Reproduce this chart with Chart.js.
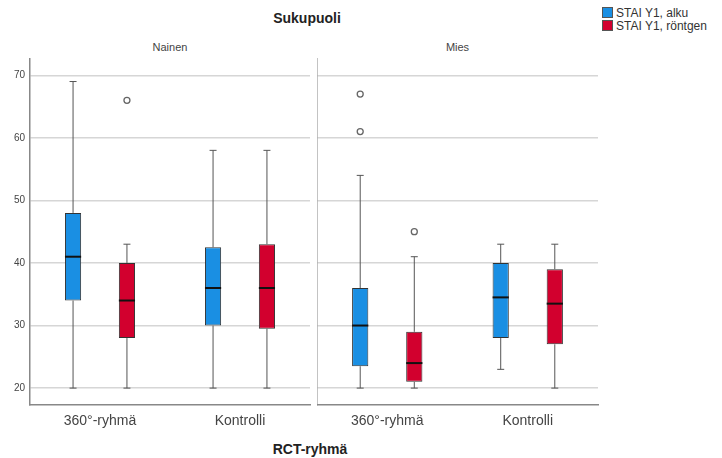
<!DOCTYPE html>
<html>
<head>
<meta charset="utf-8">
<script src="https://cdn.jsdelivr.net/npm/chart.js@4/dist/chart.umd.min.js"></script>
<style>
  body { margin: 0; width: 722px; height: 458px; background: #fff; position: relative; overflow: hidden;
    font-family: Arial, "Liberation Sans", sans-serif; }
  .txt { position: absolute; color: #222; white-space: nowrap; }
  .title { left: 0; width: 614px; top: 10px; text-align: center; font-weight: bold; font-size: 14px; }
  .xtitle { left: 0; width: 620px; top: 441px; text-align: center; font-weight: bold; font-size: 14px; }
  .sub { top: 41px; font-size: 11px; color: #444; text-align: center; }
  .legend { left: 602px; font-size: 12px; color: #333; }
  .legend span { display: inline-block; width: 9px; height: 9px; border: 1px solid #555; vertical-align: -1px; margin-right: 3px; }
  .panel { position: absolute; top: 36px; height: 404px; }
</style>
</head>
<body>
<div class="txt title">Sukupuoli</div>
<div class="txt legend" style="top:6px"><span style="background:#1a8fe3"></span>STAI Y1, alku</div>
<div class="txt legend" style="top:19px"><span style="background:#d2002e"></span>STAI Y1, röntgen</div>
<div class="txt sub" style="left:30px;width:280px">Nainen</div>
<div class="txt sub" style="left:317px;width:281px">Mies</div>
<div class="txt xtitle">RCT-ryhmä</div>
<div class="panel" style="left:0;width:312px"><canvas id="nainen"></canvas></div>
<div class="panel" style="left:317px;width:283px"><canvas id="mies"></canvas></div>

<script>
// categories
const groups = ['360°-ryhmä', 'Kontrolli']
const series = ['STAI Y1, alku', 'STAI Y1, röntgen']
const yTicks = [20, 30, 40, 50, 60, 70]

// five-number summaries per group: [min, Q1, median, Q3, max]
const nainenAlku = [[20, 34, 41, 48, 69], [20, 30, 36, 42.5, 58]]
const nainenRontgen = [[20, 28, 34, 40, 43], [20, 29.5, 36, 43, 58]]
const miesAlku = [[20, 23.5, 30, 36, 54], [23, 28, 34.5, 40, 43]]
const miesRontgen = [[20, 21, 24, 29, 41], [20, 27, 33.5, 39, 43]]

// outliers per group
const nainenAlkuOut = [[], []]
const nainenRontgenOut = [[66], []]
const miesAlkuOut = [[67, 61], []]
const miesRontgenOut = [[45], []]

const colors = ['#1a8fe3', '#d2002e']

/**
 * Draws whiskers, medians and outliers on top of the floating bars.
 */
const boxPlugin = {
  id: 'boxExtras',
  afterDatasetsDraw (chart) {
    const ctx = chart.ctx
    const y = chart.scales.y
    chart.data.datasets.forEach((ds, i) => {
      const meta = chart.getDatasetMeta(i)
      meta.data.forEach((bar, j) => {
        const [min, q1, med, q3, max] = ds.stats[j]
        const x = bar.x
        const half = bar.width / 2
        ctx.save()
        ctx.strokeStyle = '#555'
        ctx.lineWidth = 1
        ctx.beginPath()
        ctx.moveTo(x, y.getPixelForValue(q3))
        ctx.lineTo(x, y.getPixelForValue(max))
        ctx.moveTo(x, y.getPixelForValue(q1))
        ctx.lineTo(x, y.getPixelForValue(min))
        ctx.moveTo(x - 3.5, y.getPixelForValue(max))
        ctx.lineTo(x + 3.5, y.getPixelForValue(max))
        ctx.moveTo(x - 3.5, y.getPixelForValue(min))
        ctx.lineTo(x + 3.5, y.getPixelForValue(min))
        ctx.stroke()
        ctx.strokeStyle = '#111'
        ctx.lineWidth = 2
        ctx.beginPath()
        ctx.moveTo(x - half, y.getPixelForValue(med))
        ctx.lineTo(x + half, y.getPixelForValue(med))
        ctx.stroke()
        ctx.strokeStyle = '#666'
        ctx.lineWidth = 1.3
        ds.outliers[j].forEach(v => {
          ctx.beginPath()
          ctx.arc(x, y.getPixelForValue(v), 3, 0, Math.PI * 2)
          ctx.stroke()
        })
        ctx.restore()
      })
    })
  }
}

function makePanel (id, alku, rontgen, alkuOut, rontgenOut, showTicks) {
  const stats = [alku, rontgen]
  const outs = [alkuOut, rontgenOut]
  // eslint-disable-next-line no-new, no-undef
  new Chart(document.getElementById(id), {
    type: 'bar',
    data: {
      labels: groups,
      datasets: series.map((name, i) => ({
        label: name,
        data: stats[i].map(s => [s[1], s[3]]),
        stats: stats[i],
        outliers: outs[i],
        backgroundColor: colors[i],
        borderColor: '#333',
        borderWidth: 1,
        borderSkipped: false,
        categoryPercentage: 0.77,
        barPercentage: 0.3
      }))
    },
    options: {
      responsive: true,
      maintainAspectRatio: false,
      animation: false,
      events: [],
      layout: { padding: { top: 23, right: 2 } },
      scales: {
        x: {
          grid: { display: false, drawTicks: false },
          border: { color: '#888', width: 1.5 },
          ticks: { color: '#444', font: { family: 'Arial, "Liberation Sans"', size: 14 }, padding: 8 },
          afterFit: s => { s.height = 35 }
        },
        y: {
          min: 17.3,
          max: 72.6,
          afterBuildTicks: s => { s.ticks = yTicks.map(v => ({ value: v })) },
          grid: { color: '#d6d6d6', lineWidth: 1.5, drawTicks: false },
          border: { color: '#888', width: 1.5 },
          ticks: { display: showTicks, color: '#444', font: { family: 'Arial, "Liberation Sans"', size: 10 }, padding: 5 },
          afterFit: s => { s.width = showTicks ? 30 : 0 }
        }
      },
      plugins: {
        legend: { display: false },
        tooltip: { enabled: false }
      }
    },
    plugins: [boxPlugin]
  })
}

makePanel('nainen', nainenAlku, nainenRontgen, nainenAlkuOut, nainenRontgenOut, true)
makePanel('mies', miesAlku, miesRontgen, miesAlkuOut, miesRontgenOut, false)
</script>
</body>
</html>
